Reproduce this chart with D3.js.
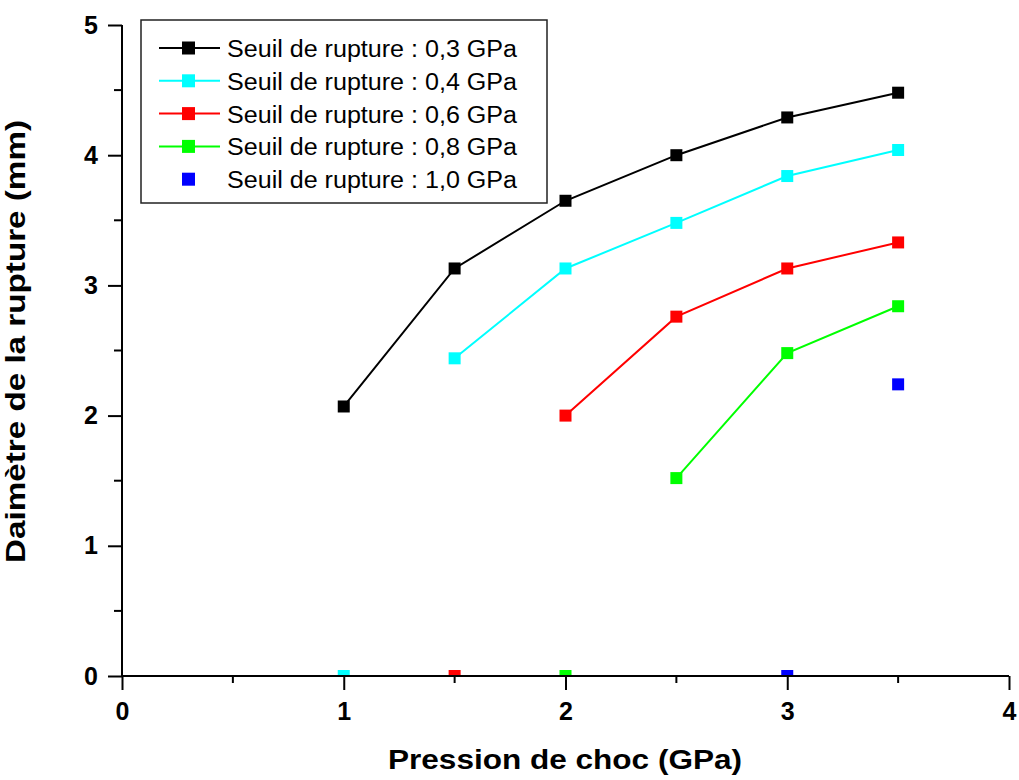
<!DOCTYPE html>
<html><head><meta charset="utf-8">
<script src="https://cdn.jsdelivr.net/npm/d3@7"></script>
<style>body{margin:0;background:#fff;} svg{display:block;font-family:Arial,"Liberation Sans",sans-serif;}</style>
</head><body><svg id="c" width="1019" height="780"></svg>
<script>
const seriesNames = ["Seuil de rupture : 0,3 GPa","Seuil de rupture : 0,4 GPa","Seuil de rupture : 0,6 GPa","Seuil de rupture : 0,8 GPa","Seuil de rupture : 1,0 GPa"];
const seriesColors = ["#000000","#00ffff","#ff0000","#00ff00","#0000ff"];
const x03 = [1, 1.5, 2, 2.5, 3, 3.5];
const y03 = [2.07, 3.13, 3.65, 4.0, 4.29, 4.48];
const x04 = [1.5, 2, 2.5, 3, 3.5];
const y04 = [2.44, 3.13, 3.48, 3.84, 4.04];
const x06 = [2, 2.5, 3, 3.5];
const y06 = [2.0, 2.76, 3.13, 3.33];
const x08 = [2.5, 3, 3.5];
const y08 = [1.52, 2.48, 2.84];
const x10 = [3.5];
const y10 = [2.24];
// points at zero diameter (no rupture), drawn as markers only
const zeroX = [null, 1, 1.5, 2, 3];
const xTicks = [0, 1, 2, 3, 4];
const yTicks = [0, 1, 2, 3, 4, 5];
const xLabel = "Pression de choc (GPa)";
const yLabel = "Daimètre de la rupture (mm)";

const seriesX = [x03, x04, x06, x08, x10];
const seriesY = [y03, y04, y06, y08, y10];
const hasLine = [true, true, true, true, false];

const svg = d3.select("#c");
const L = 122, R = 1009, T = 25, B = 676;
const x = d3.scaleLinear().domain([0, 4]).range([L, R]);
const y = d3.scaleLinear().domain([0, 5]).range([B, T]);

svg.append("defs").append("clipPath").attr("id","clip")
  .append("rect").attr("x", L).attr("y", 0).attr("width", R - L + 20).attr("height", B);

// axes
const xAxis = d3.axisBottom(x).tickValues(xTicks).tickSize(14).tickPadding(12).tickFormat(d3.format("d"));
const gx = svg.append("g").attr("transform", `translate(0,${B})`).call(xAxis);
const yAxis = d3.axisLeft(y).tickValues(yTicks).tickSize(14).tickPadding(10).tickFormat(d3.format("d"));
const gy = svg.append("g").attr("transform", `translate(${L},0)`).call(yAxis);
[gx, gy].forEach(g => {
  g.attr("font-size", 25).attr("font-family","Arial, 'Liberation Sans', sans-serif");
  g.select(".domain").attr("stroke","#000").attr("stroke-width",2);
  g.selectAll(".tick line").attr("stroke","#000").attr("stroke-width",2);
  g.selectAll(".tick text").attr("fill","#000").attr("font-weight","bold");
});
gx.select(".domain").attr("d", `M${L},0H${R}`);
gy.select(".domain").attr("d", `M0,${B}V${T}`);
// minor ticks
const minorX = d3.range(0.5, 4, 1);
svg.append("g").selectAll("line").data(minorX).join("line")
  .attr("x1", d => x(d)).attr("x2", d => x(d)).attr("y1", B).attr("y2", B + 7)
  .attr("stroke","#000").attr("stroke-width",2);
const minorY = d3.range(0.5, 5, 1);
svg.append("g").selectAll("line").data(minorY).join("line")
  .attr("x1", L - 8).attr("x2", L).attr("y1", d => y(d)).attr("y2", d => y(d))
  .attr("stroke","#000").attr("stroke-width",2);

// axis titles
svg.append("text").attr("x", 565).attr("y", 769).attr("text-anchor","middle")
  .attr("font-size",27).attr("font-weight","bold")
  .attr("textLength", 354).attr("lengthAdjust","spacingAndGlyphs").text(xLabel);
svg.append("text").attr("transform", `translate(25,341.5) rotate(-90)`).attr("text-anchor","middle")
  .attr("font-size",27).attr("font-weight","bold")
  .attr("textLength", 443).attr("lengthAdjust","spacingAndGlyphs").text(yLabel);

// series
const plot = svg.append("g").attr("clip-path","url(#clip)");
const line = d3.line().x(d => x(d[0])).y(d => y(d[1]));
const ms = 12;
seriesX.forEach((xs, i) => {
  const pts = xs.map((v, j) => [v, seriesY[i][j]]);
  if (hasLine[i]) {
    plot.append("path").datum(pts).attr("d", line).attr("fill","none")
      .attr("stroke", seriesColors[i]).attr("stroke-width", 2);
  }
  plot.selectAll(null).data(pts).join("rect")
    .attr("x", d => x(d[0]) - ms / 2).attr("y", d => y(d[1]) - ms / 2)
    .attr("width", ms).attr("height", ms).attr("fill", seriesColors[i]);
  if (zeroX[i] !== null) {
    plot.append("rect").attr("x", x(zeroX[i]) - ms / 2).attr("y", y(0) - ms / 2)
      .attr("width", ms).attr("height", ms).attr("fill", seriesColors[i]);
  }
});
svg.append("line").attr("x1", L).attr("x2", R).attr("y1", B).attr("y2", B).attr("stroke","#000").attr("stroke-width",2);

// legend
const lg = svg.append("g");
lg.append("rect").attr("x", 141).attr("y", 20).attr("width", 406).attr("height", 183)
  .attr("fill","#fff").attr("stroke","#222").attr("stroke-width",1.5);
seriesNames.forEach((name, i) => {
  const yy = 48 + i * 32.8;
  if (hasLine[i]) {
    lg.append("line").attr("x1", 159).attr("x2", 220).attr("y1", yy).attr("y2", yy)
      .attr("stroke", seriesColors[i]).attr("stroke-width", 2);
  }
  lg.append("rect").attr("x", 188.5 - 6.5).attr("y", yy - 6.5).attr("width", 13).attr("height", 13)
    .attr("fill", seriesColors[i]);
  lg.append("text").attr("x", 227).attr("y", yy + 9).attr("font-size", 23)
    .attr("textLength", 290).attr("lengthAdjust","spacingAndGlyphs").attr("fill","#000").text(name);
});
</script></body></html>
